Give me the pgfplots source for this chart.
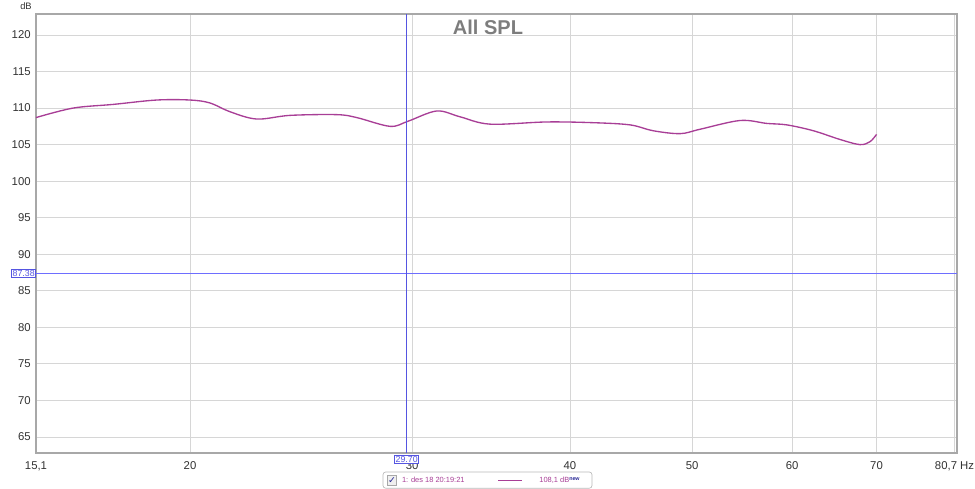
\documentclass[border=0pt]{standalone}
\usepackage{fontspec}
\setmainfont{Liberation Sans}
\newfontfamily\dejavu{DejaVu Sans}
\usepackage{pgfplots}
\pgfplotsset{compat=1.18}
\definecolor{curve}{RGB}{168,62,150}
\definecolor{cursorc}{RGB}{85,85,225}
\definecolor{cursorh}{RGB}{110,110,255}
\definecolor{gridc}{RGB}{214,214,214}
\definecolor{framec}{RGB}{168,168,168}
\definecolor{titlec}{RGB}{125,125,125}
\definecolor{tickc}{RGB}{50,50,50}
\definecolor{newc}{RGB}{40,40,150}
\begin{document}
\begin{tikzpicture}
\useasboundingbox (0,0) rectangle (731.25pt,366.75pt);
\begin{axis}[
  at={(27pt,27pt)}, anchor=south west,
  scale only axis, width=690.75pt, height=329.25pt,
  xmode=log, xmin=15.1, xmax=81.07, ymin=62.81, ymax=122.87,
  xtick={15.1,20,30,40,50,60,70,80.7},
  xticklabels={15{,}1,20,30,40,50,60,70,80{,}7 Hz},
  ytick={65,70,75,80,85,90,95,100,105,110,115,120},
  yticklabels={65,70,75,80,85,90,95,100,105,110,115,120},
  minor xtick={},
  log ticks with fixed point,
  major tick length=0pt,
  grid=major,
  major grid style={draw=gridc, line width=0.6pt},
  axis line style={draw=framec, line width=1.4pt},
  tick label style={font=\fontsize{8.5}{9}\selectfont, text=tickc},
  xticklabel style={yshift=-3pt},
  yticklabel style={xshift=-0.5pt},
  clip=false,
]
\addplot[curve, line width=1.0pt, smooth, tension=0.55] coordinates {
(15.10,108.7) (16.16,110.0) (17.38,110.5) (18.82,111.1) (20.00,111.1)
(20.74,110.7) (21.51,109.5) (22.59,108.5) (24.00,109.0) (26.14,109.1)
(27.11,108.7) (28.81,107.5) (29.77,108.2) (31.37,109.6) (32.74,108.8)
(34.58,107.8) (38.35,108.1) (41.73,108.0) (44.64,107.7) (46.55,106.9)
(48.91,106.5) (50.72,107.1) (54.57,108.3) (57.29,107.9) (59.42,107.7)
(62.37,106.9) (65.49,105.7) (67.92,105.0) (69.17,105.4) (70.0,106.4)
};
\addplot[cursorh, line width=1.0pt, forget plot] coordinates {(15.1,87.38) (81.07,87.38)};
\draw[cursorc, line width=0.9pt] (axis cs:29.7,62.81) -- (axis cs:29.7,122.87);
\node[draw=cursorc, fill=white, text=cursorc, inner sep=0.7pt, line width=0.6pt,
  font=\fontsize{6.6}{7}\selectfont, anchor=east] at (axis cs:15.1,87.38) {87.38};
\node[draw=cursorc, fill=white, text=cursorc, inner sep=0.7pt, line width=0.6pt,
  font=\fontsize{6.6}{7}\selectfont, anchor=north] at ([yshift=-1.2pt]axis cs:29.7,62.81) {29.70};
\end{axis}
\node[font=\fontsize{7}{8}\selectfont, text=tickc] at (19.5pt,362pt) {dB};
\node[font=\bfseries\fontsize{15}{16}\selectfont, text=titlec] at (366pt,346.5pt) {All SPL};
% legend box
\draw[draw=framec!80, fill=white, rounded corners=2pt, line width=0.5pt] (287.25pt,0.6pt) rectangle (444pt,12.75pt);
\draw[draw=framec, fill=gridc!40, line width=0.4pt] (290.5pt,2.5pt) rectangle (297.5pt,10pt);
\node[font=\dejavu\fontsize{7}{8}\selectfont, text=newc] at (294pt,6.5pt) {✓};
\node[font=\fontsize{5.6}{6}\selectfont, text=curve, anchor=west] at (298pt,6.6pt) {1: des 18 20:19:21};
\draw[curve, line width=0.8pt] (373.5pt,6.6pt) -- (391.5pt,6.6pt);
\node[font=\fontsize{5.6}{6}\selectfont, text=curve, anchor=west] at (401pt,6.6pt) {108,1 dB\raisebox{1.5pt}{\textcolor{newc}{\bfseries\fontsize{4}{4}\selectfont new}}};
\end{tikzpicture}
\end{document}
